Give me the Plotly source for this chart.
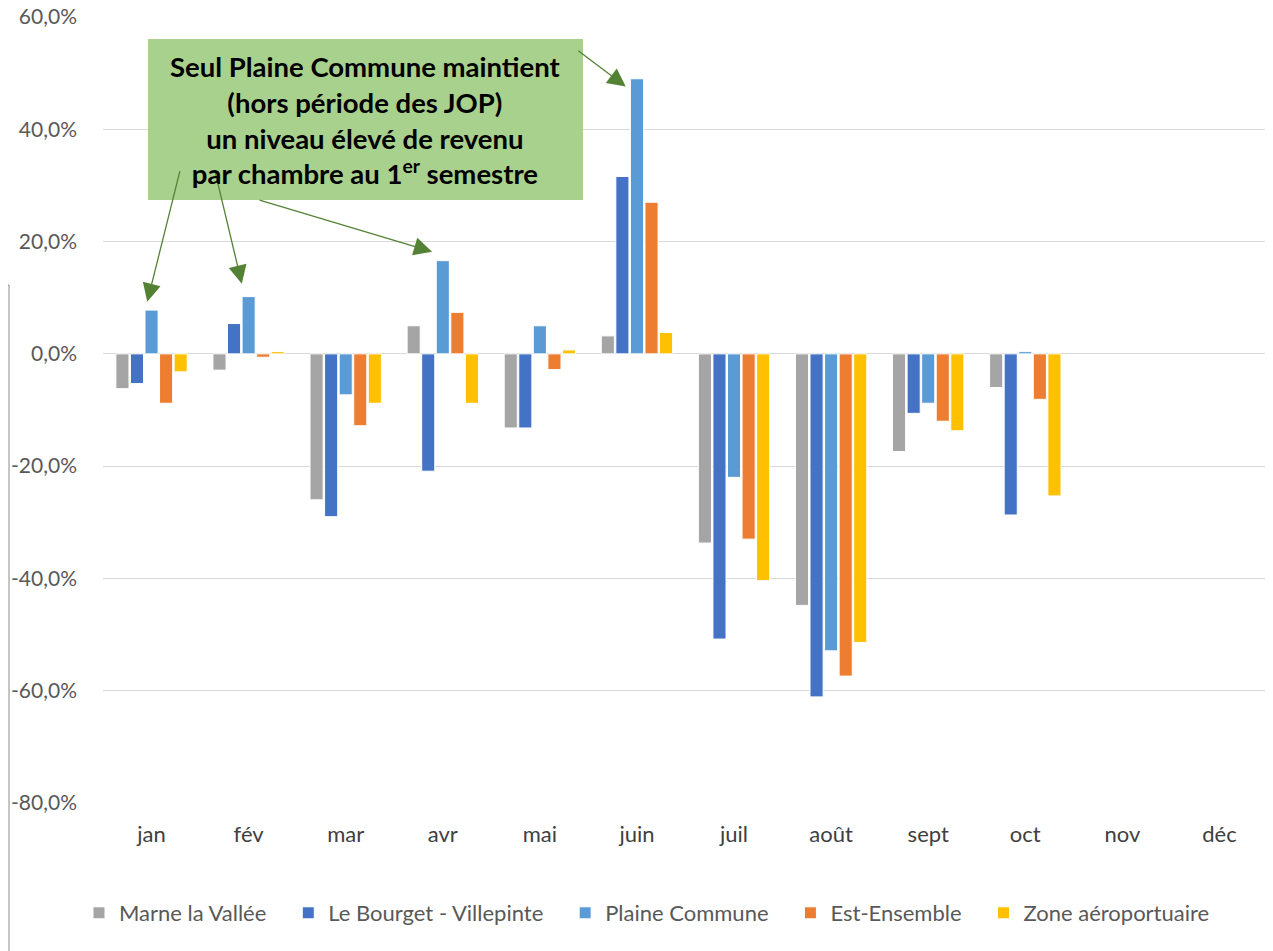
import plotly.graph_objects as go

months = ["jan", "fév", "mar", "avr", "mai", "juin", "juil", "août", "sept", "oct", "nov", "déc"]
marne = [-6.2, -2.9, -26.0, 5.0, -13.2, 3.2, -33.7, -44.8, -17.4, -6.0, None, None]
bourget = [-5.3, 5.4, -29.0, -20.9, -13.2, 31.6, -50.8, -61.1, -10.6, -28.7, None, None]
plaine = [7.8, 10.2, -7.3, 16.6, 5.0, 49.0, -22.0, -52.9, -8.8, 0.4, None, None]
est = [-8.8, -0.6, -12.8, 7.4, -2.8, 27.0, -33.0, -57.4, -12.0, -8.1, None, None]
zone = [-3.2, 0.4, -8.8, -8.8, 0.7, 3.8, -40.4, -51.4, -13.7, -25.3, None, None]

series_names = ["Marne la Vallée", "Le Bourget - Villepinte", "Plaine Commune", "Est-Ensemble", "Zone aéroportuaire"]
series_values = [marne, bourget, plaine, est, zone]
colors = ["#A5A5A5", "#4472C4", "#5B9BD5", "#ED7D31", "#FFC000"]

y_tickvals = [60, 40, 20, 0, -20, -40, -60, -80]
y_ticktext = ["60,0%", "40,0%", "20,0%", "0,0%", "-20,0%", "-40,0%", "-60,0%", "-80,0%"]

FONT = "Lato"
PAD = "\u00a0" * 3

fig = go.Figure()
for i, (name, vals, col) in enumerate(zip(series_names, series_values, colors)):
    fig.add_trace(go.Bar(
        x=months, y=vals, name=name + (PAD if i < len(series_names) - 1 else ""),
        marker=dict(color=col, line=dict(color="white", width=1)),
    ))

# page has an 8px body margin: figure origin sits at page (8, 8)
OFF = 8
FW, FH = 1273 - OFF, 951 - OFF
L, R, T, B = 103 - OFF, 5, 17 - OFF, 148
W, H = FW - L - R, FH - T - B

def px(page_x):
    return (page_x - OFF - L) / W

def py(page_y):
    return (FH - B - (page_y - OFF)) / H

shapes = [
    dict(type="rect", xref="paper", yref="paper", x0=px(148), x1=px(583), y0=py(200), y1=py(39),
         fillcolor="#A9D18E", line=dict(width=0), layer="above"),
    dict(type="line", xref="paper", yref="paper", x0=px(9), x1=px(9), y0=py(285), y1=py(960),
         line=dict(color="#8c8c8c", width=1)),
    dict(type="line", xref="paper", yref="paper", x0=px(0), x1=px(9), y0=py(285), y1=py(285),
         line=dict(color="#8c8c8c", width=1)),
]

ann = []
arrows = [
    (4.885, 47.6, -49, -37),
    (-0.044, 9.3, 33, -132),
    (0.93, 12.5, -27, -113),
    (2.89, 18.2, -174, -52),
]
for x, y, ax, ay in arrows:
    ann.append(dict(x=x, y=y, xref="x", yref="y", ax=ax, ay=ay, text="", showarrow=True,
                    arrowhead=2, arrowsize=2.8, arrowwidth=1.3, arrowcolor="#548235", standoff=0))

ann.append(dict(
    xref="paper", yref="paper", x=px(365.5), y=py(120), showarrow=False,
    text="<b>Seul Plaine Commune maintient<br>(hors période des JOP)<br>un niveau élevé de revenu<br>par chambre au 1<sup>er</sup> semestre</b>",
    font=dict(family=FONT, size=27.5, color="#000000"), align="center",
    xanchor="center", yanchor="middle",
))

fig.update_layout(
    width=FW, height=FH,
    margin=dict(l=L, r=R, t=T, b=B, autoexpand=False),
    paper_bgcolor="white", plot_bgcolor="white",
    barmode="group", bargap=0.25, bargroupgap=0.1,
    font=dict(family=FONT, size=21, color="#595959"),
    shapes=shapes, annotations=ann,
    legend=dict(orientation="h", x=px(79), xanchor="left", y=py(913), yanchor="middle",
                font=dict(family=FONT, size=22, color="#595959"), traceorder="normal",
                itemwidth=30),
    xaxis=dict(type="category", showgrid=False, showline=False, zeroline=False, automargin=False,
               tickfont=dict(family=FONT, size=22, color="#404040"), ticks="",
               ticklabelstandoff=16),
    yaxis=dict(range=[-80, 60], tickvals=y_tickvals, ticktext=y_ticktext, automargin=False,
               showgrid=True, gridcolor="#D9D9D9", gridwidth=1,
               zeroline=True, zerolinecolor="#D9D9D9", zerolinewidth=1,
               showline=False, ticks="", ticklabelstandoff=25, ticklabeloverflow="allow",
               tickfont=dict(family=FONT, size=21, color="#595959")),
)

fig.write_html("out.html")
